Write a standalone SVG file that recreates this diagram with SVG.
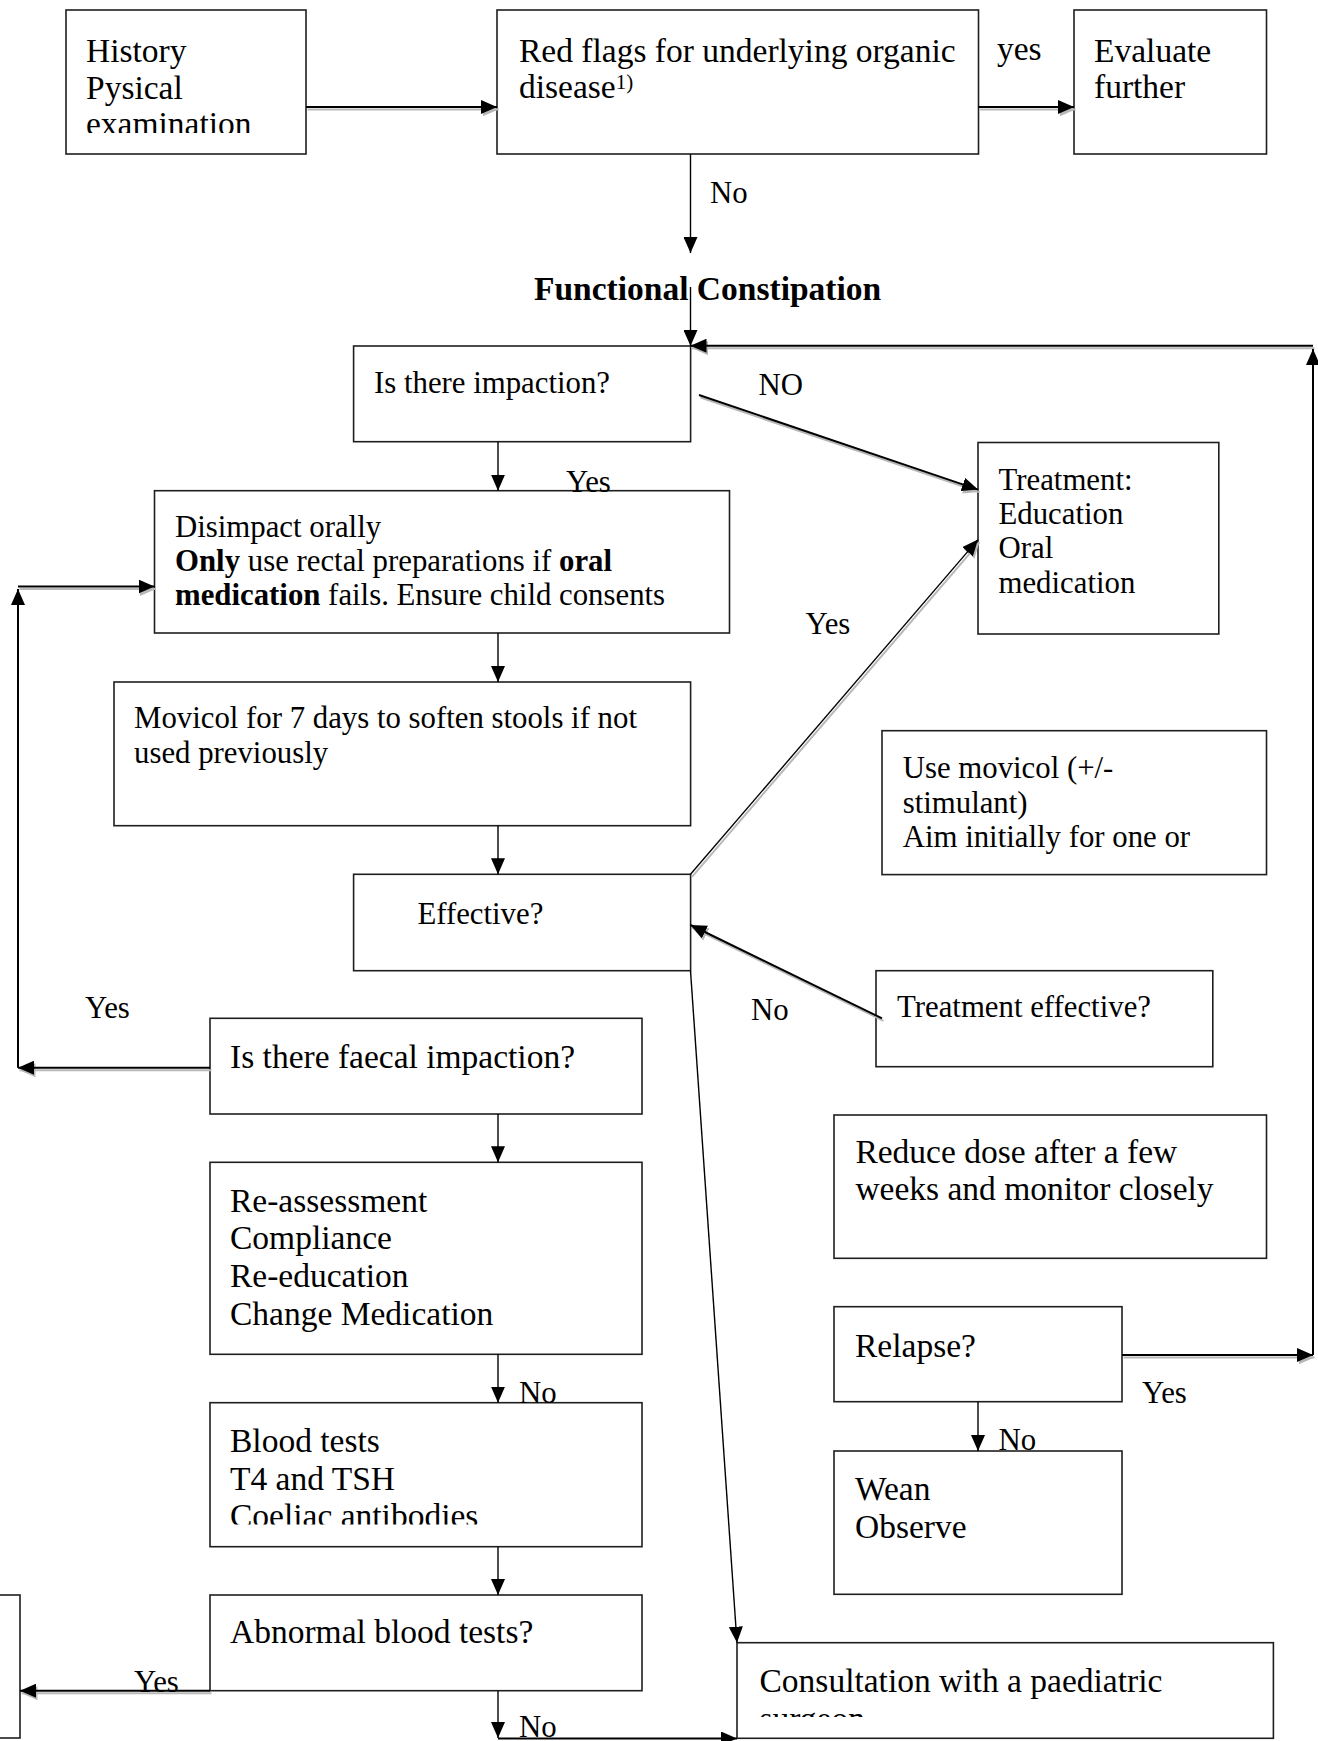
<svg xmlns="http://www.w3.org/2000/svg" width="1318" height="1741" viewBox="0 0 1318 1741">
<style>
 .box{fill:#fff;stroke:#1e1e1e;stroke-width:1.6}
 text{font-family:"Liberation Serif","Times New Roman",serif;fill:#000}
 .b{font-size:33.5px}
 .s{font-size:30.8px}
 .bold{font-weight:bold}
 .c{fill:none;stroke:#000;stroke-width:1.4}
 .c2{fill:none;stroke:#000;stroke-width:2}
 .sh{fill:none;stroke:#b8b8b8;stroke-width:2}
</style>
<defs>
 <marker id="ah" viewBox="0 0 16 14" refX="16" refY="7" markerWidth="16" markerHeight="14" markerUnits="userSpaceOnUse" orient="auto"><path d="M0,0 L16,7 L0,14 z" fill="#000"/></marker>
 <marker id="ahg" viewBox="0 0 16 14" refX="16" refY="7" markerWidth="16" markerHeight="14" markerUnits="userSpaceOnUse" orient="auto"><path d="M0,0 L16,7 L0,14 z" fill="#b8b8b8"/></marker>
 <clipPath id="clipHist"><rect x="66" y="10" width="240" height="123"/></clipPath>
 <clipPath id="clipTreat"><rect x="978" y="442" width="241" height="170"/></clipPath>
 <clipPath id="clipBlood"><rect x="210" y="1402" width="432" height="122.5"/></clipPath>
 <clipPath id="clipCons"><rect x="737" y="1642" width="537" height="75"/></clipPath>
</defs>
<rect x="0" y="0" width="1318" height="1741" fill="#fff"/>

<g id="nodes">
 <g id="n-history">
  <rect class="box" x="66" y="10" width="240" height="144"/>
  <g clip-path="url(#clipHist)">
   <text class="b" x="86" y="62">History</text>
   <text class="b" x="86" y="98.5">Pysical</text>
   <text class="b" x="86" y="135">examination</text>
  </g>
 </g>
 <g id="n-redflags">
  <rect class="box" x="497" y="10" width="481.5" height="144"/>
  <text class="b" x="519" y="62">Red flags for underlying organic</text>
  <text class="b" x="519" y="98">disease<tspan font-size="21" dy="-9">1)</tspan></text>
 </g>
 <g id="n-evaluate">
  <rect class="box" x="1074" y="10" width="192.5" height="144"/>
  <text class="b" x="1094" y="62">Evaluate</text>
  <text class="b" x="1094" y="98">further</text>
 </g>
 <g id="n-functional">
  <text class="b bold" x="534" y="300">Functional Constipation</text>
 </g>
 <g id="n-impaction">
  <rect class="box" x="353.6" y="346" width="337" height="95.7"/>
  <text class="s" x="374" y="393">Is there impaction?</text>
 </g>
 <g id="n-disimpact">
  <rect class="box" x="154.5" y="490.7" width="575" height="142.3"/>
  <text class="s" x="175" y="536.7">Disimpact orally</text>
  <text class="s" x="175" y="570.5"><tspan class="bold">Only</tspan> use rectal preparations if <tspan class="bold">oral</tspan></text>
  <text class="s" x="175" y="604.5"><tspan class="bold">medication</tspan> fails. Ensure child consents</text>
 </g>
 <g id="n-movicol7">
  <rect class="box" x="114" y="682" width="576.6" height="143.7"/>
  <text class="s" x="134" y="728">Movicol for 7 days to soften stools if not</text>
  <text class="s" x="134" y="763">used previously</text>
 </g>
 <g id="n-effective">
  <rect class="box" x="353.6" y="874.3" width="337" height="96.4"/>
  <text class="s" x="417.4" y="924">Effective?</text>
 </g>
 <g id="n-treatment">
  <rect class="box" x="978" y="442.5" width="240.8" height="191.5"/>
  <g clip-path="url(#clipTreat)">
   <text class="s" x="998.5" y="490">Treatment:</text>
   <text class="s" x="998.5" y="524">Education</text>
   <text class="s" x="998.5" y="558">Oral</text>
   <text class="s" x="998.5" y="592.5">medication</text>
  </g>
 </g>
 <g id="n-usemovicol">
  <rect class="box" x="882" y="730.7" width="384.5" height="143.9"/>
  <text class="s" x="902.7" y="777.5">Use movicol (+/-</text>
  <text class="s" x="902.7" y="812.5">stimulant)</text>
  <text class="s" x="902.7" y="847">Aim initially for one or</text>
 </g>
 <g id="n-treat-eff">
  <rect class="box" x="876" y="970.7" width="336.8" height="96"/>
  <text class="s" x="897" y="1016.7">Treatment effective?</text>
 </g>
 <g id="n-faecal">
  <rect class="box" x="210" y="1018.3" width="432" height="95.7"/>
  <text class="b" x="230" y="1068">Is there faecal impaction?</text>
 </g>
 <g id="n-reassess">
  <rect class="box" x="210" y="1162.3" width="432" height="192"/>
  <text class="b" x="230" y="1211.7">Re-assessment</text>
  <text class="b" x="230" y="1249.3">Compliance</text>
  <text class="b" x="230" y="1287">Re-education</text>
  <text class="b" x="230" y="1325">Change Medication</text>
 </g>
 <g id="n-blood">
  <rect class="box" x="210" y="1402.7" width="432" height="144"/>
  <g clip-path="url(#clipBlood)">
   <text class="b" x="230" y="1451.7">Blood tests</text>
   <text class="b" x="230" y="1489.5">T4 and TSH</text>
   <text class="b" x="230" y="1527.3">Coeliac antibodies</text>
  </g>
 </g>
 <g id="n-abnormal">
  <rect class="box" x="210" y="1595" width="432" height="95.7"/>
  <text class="b" x="230" y="1643.3">Abnormal blood tests?</text>
 </g>
 <g id="n-offpage">
  <rect class="box" x="-10" y="1595" width="30" height="143"/>
 </g>
 <g id="n-reduce">
  <rect class="box" x="834" y="1115" width="432.5" height="143.3"/>
  <text class="b" x="855.4" y="1163.3">Reduce dose after a few</text>
  <text class="b" x="855.4" y="1200">weeks and monitor closely</text>
 </g>
 <g id="n-relapse">
  <rect class="box" x="834" y="1306.7" width="288" height="95"/>
  <text class="b" x="855" y="1356.7">Relapse?</text>
 </g>
 <g id="n-wean">
  <rect class="box" x="834" y="1451" width="288" height="143.3"/>
  <text class="b" x="855" y="1500">Wean</text>
  <text class="b" x="855" y="1538.3">Observe</text>
 </g>
 <g id="n-consult">
  <rect class="box" x="737" y="1642.7" width="536.4" height="95.6"/>
  <g clip-path="url(#clipCons)">
   <text class="b" x="759.5" y="1691.7">Consultation with a paediatric</text>
   <text class="b" x="759.5" y="1729.5">surgeon</text>
  </g>
 </g>
</g>

<g id="connectors">
 <g transform="translate(1.5,2.5)">
  <path class="sh" d="M306,107 H497" marker-end="url(#ahg)"/>
  <path class="sh" d="M978.5,107 H1074" marker-end="url(#ahg)"/>
  <path class="sh" d="M699,395 L978,489.6" marker-end="url(#ahg)"/>
  <path class="sh" d="M690.5,874.3 L978,539.6" marker-end="url(#ahg)"/>
  <path class="sh" d="M18,586.5 H154.5" marker-end="url(#ahg)"/>
  <path class="sh" d="M210,1067.7 H18" marker-end="url(#ahg)"/>
  <path class="sh" d="M1313,345.7 H690.5" marker-end="url(#ahg)"/>
  <path class="sh" d="M1122,1355 H1313" marker-end="url(#ahg)"/>
  <path class="sh" d="M882,1018.3 L690.5,925" marker-end="url(#ahg)"/>
  <path class="sh" d="M210,1690.7 H20" marker-end="url(#ahg)"/>
 </g>
 <path class="c2" d="M306,107 H497" marker-end="url(#ah)"/>
 <path class="c2" d="M978.5,107 H1074" marker-end="url(#ah)"/>
 <path class="c" d="M690.5,154 V253" marker-end="url(#ah)"/>
 <path class="c" d="M690.5,287 V346" marker-end="url(#ah)"/>
 <path class="c2" d="M699,395 L978,489.6" marker-end="url(#ah)"/>
 <path class="c" d="M498,441.7 V490.7" marker-end="url(#ah)"/>
 <path class="c" d="M498,633 V682" marker-end="url(#ah)"/>
 <path class="c" d="M498,825.7 V874.3" marker-end="url(#ah)"/>
 <path class="c" d="M690.5,874.3 L978,539.6" marker-end="url(#ah)"/>
 <path class="c2" d="M882,1018.3 L690.5,925" marker-end="url(#ah)"/>
 <path class="c" d="M690.5,970.7 L737,1642.7" marker-end="url(#ah)"/>
 <path class="c2" d="M210,1067.7 H18" marker-end="url(#ah)"/>
 <path class="c2" d="M18,1067.7 V589" marker-end="url(#ah)"/>
 <path class="c2" d="M18,586.5 H154.5" marker-end="url(#ah)"/>
 <path class="c" d="M498,1114 V1162.3" marker-end="url(#ah)"/>
 <path class="c" d="M498,1354.3 V1402.7" marker-end="url(#ah)"/>
 <path class="c" d="M498,1546.7 V1595" marker-end="url(#ah)"/>
 <path class="c2" d="M210,1690.7 H20" marker-end="url(#ah)"/>
 <path class="c" d="M498,1690.7 V1738" marker-end="url(#ah)"/>
 <path class="c2" d="M498,1738.5 H737" marker-end="url(#ah)"/>
 <path class="c2" d="M1122,1355 H1313" marker-end="url(#ah)"/>
 <path class="c2" d="M1313,1355 V349" marker-end="url(#ah)"/>
 <path class="c2" d="M1313,345.7 H690.5" marker-end="url(#ah)"/>
 <path class="c" d="M978,1401.7 V1451" marker-end="url(#ah)"/>

 <text class="b" x="997" y="60">yes</text>
 <text class="s" x="710" y="203">No</text>
 <text class="s" x="758.6" y="395">NO</text>
 <text class="s" x="566" y="492">Yes</text>
 <text class="s" x="805.5" y="634">Yes</text>
 <text class="s" x="751" y="1020">No</text>
 <text class="s" x="85" y="1018">Yes</text>
 <text class="s" x="519" y="1403">No</text>
 <text class="s" x="134" y="1691.7">Yes</text>
 <text class="s" x="519" y="1737">No</text>
 <text class="s" x="1142" y="1403.3">Yes</text>
 <text class="s" x="998.5" y="1450">No</text>
</g>
</svg>
